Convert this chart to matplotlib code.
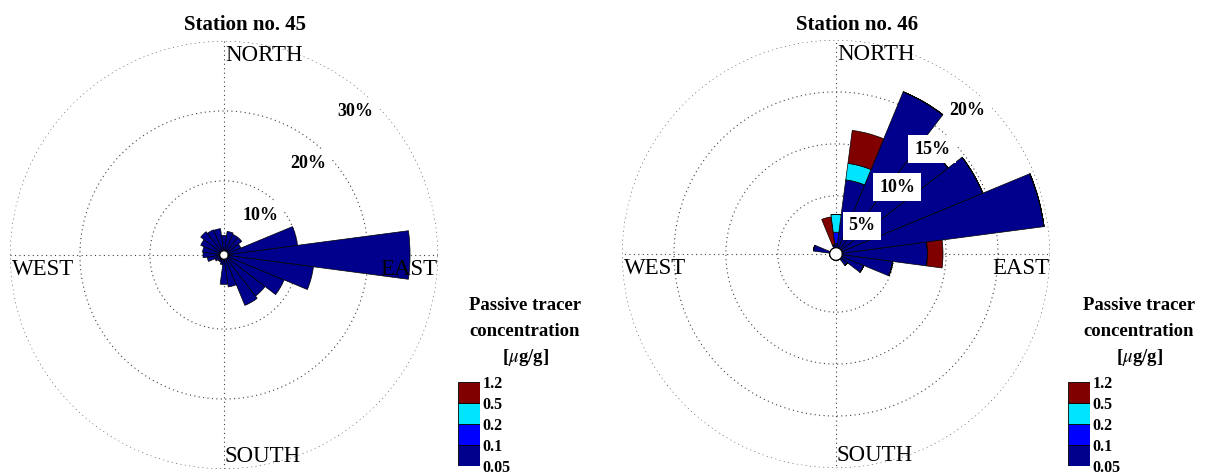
import numpy as np
import matplotlib.pyplot as plt

plt.rcParams['font.family'] = ['Liberation Serif', 'DejaVu Serif']
plt.rcParams['mathtext.fontset'] = 'stix'

# direction bins (deg, counter-clockwise from east), 15 deg wide
dirs = [0, 15, 30, 45, 60, 75, 90, 105, 120, 135, 150, 165,
        180, 195, 210, 225, 240, 255, 270, 285, 300, 315, 330, 345]

# station 45: frequency (%) per direction, all in the lowest class
st45_navy = [26.0, 10.0, 2.0, 2.6, 2.6, 2.8, 2.2, 3.2, 3.3, 3.6, 3.0, 2.5,
             2.4, 1.8, 0.8, 0.5, 0.5, 0.8, 3.6, 4.0, 7.2, 6.8, 8.7, 12.3]

# station 46: frequency (%) per direction and concentration class
st46_navy = [8.2, 19.6, 14.7, 13.0, 16.3, 6.6, 0.4, 0.3, 0, 0, 0, 1.6,
             0, 0, 0, 0, 0, 0, 0, 0, 0, 0.8, 2.3, 4.9]
st46_blue = [0, 0, 0, 0, 0, 0, 1.1, 0, 0, 0, 0, 0,
             0, 0, 0, 0, 0, 0, 0, 0, 0, 0, 0, 0]
st46_cyan = [0, 0, 0, 0, 0, 1.6, 1.7, 0, 0, 0, 0, 0,
             0, 0, 0, 0, 0, 0, 0, 0, 0, 0, 0, 0]
st46_red = [1.5, 0, 0, 0, 0, 3.2, 0, 2.7, 0, 0, 0, 0,
            0, 0, 0, 0, 0, 0, 0, 0, 0, 0, 0, 0]

class_bounds = ['0.05', '0.1', '0.2', '0.5', '1.2']
class_colors = ['#00008c', '#0000ff', '#00e5ff', '#800000']

W, H = 1213, 475


def draw_rose(rect, layers, rings, rmax, title, title_x):
    ax = fig.add_axes(rect, projection='polar')
    ax.set_rorigin(-0.6)
    ax.set_rlim(0, rmax)
    ax.grid(False)
    ax.set_xticks([])
    ax.set_yticks([])
    ax.spines['polar'].set_visible(False)

    t = np.linspace(0, 2 * np.pi, 400)
    for r in rings:
        ax.plot(t, np.full_like(t, r), color='0.25', lw=0.8, ls=(0, (1, 3)), zorder=1)
    for a in [0, 90, 180, 270]:
        ax.plot([np.radians(a)] * 2, [0, rmax], color='0.25', lw=0.8, ls=(0, (1, 3)), zorder=1)

    th = np.radians(dirs)
    bottom = np.zeros(len(dirs))
    for vals, col in layers:
        vals = np.array(vals, dtype=float)
        ax.bar(th, vals, width=np.radians(15), bottom=bottom, color=col,
               edgecolor='black', linewidth=0.5, zorder=2)
        bottom = bottom + vals

    for r in rings:
        ax.text(np.radians(47.5), r - 0.095 * rmax, '%d%%' % r, fontsize=13,
                fontweight='bold', ha='center', va='center', zorder=5,
                bbox=dict(facecolor='white', edgecolor='none', pad=4))

    kw = dict(transform=ax.transAxes, fontsize=16.5, va='center', zorder=6)
    ax.text(0.502, 0.965, 'NORTH', ha='left', **kw)
    ax.text(0.998, 0.466, 'EAST', ha='right', **kw)
    ax.text(0.005, 0.466, 'WEST', ha='left', **kw)
    ax.text(0.502, 0.030, 'SOUTH', ha='left', **kw)

    fig.text(title_x / W, 1 - 25 / H, title, fontsize=15, fontweight='bold',
             ha='center', va='center')
    return ax


def draw_key(x0, cx):
    ax = fig.add_axes([x0 / W, 9 / H, 22 / W, 84 / H])
    for i, col in enumerate(class_colors):
        ax.bar(0, 1, bottom=i, width=1, color=col, edgecolor='black', linewidth=0.6)
    ax.set_xlim(-0.5, 0.5)
    ax.set_ylim(0, 4)
    ax.set_xticks([])
    ax.yaxis.tick_right()
    ax.set_yticks(range(5))
    ax.set_yticklabels(class_bounds, fontsize=11.5, fontweight='bold')
    ax.tick_params(axis='y', length=0, pad=2)
    for s in ax.spines.values():
        s.set_visible(False)
    for y, s in [(306, 'Passive tracer'), (331, 'concentration'), (357, '[$\\mu$g/g]')]:
        fig.text(cx / W, 1 - y / H, s, fontsize=13.5, fontweight='bold',
                 ha='center', va='center')


fig = plt.figure(figsize=(W / 100, H / 100), dpi=100)

draw_rose([10 / W, 6 / H, 428 / W, 428 / H], [(st45_navy, class_colors[0])],
          [10, 20, 30], 30, 'Station no. 45', 245)
draw_rose([622 / W, 7 / H, 428 / W, 428 / H],
          [(st46_navy, class_colors[0]), (st46_blue, class_colors[1]),
           (st46_cyan, class_colors[2]), (st46_red, class_colors[3])],
          [5, 10, 15, 20], 20, 'Station no. 46', 857)

draw_key(458, 525)
draw_key(1068, 1139)

fig.savefig('out.png', dpi=100)
